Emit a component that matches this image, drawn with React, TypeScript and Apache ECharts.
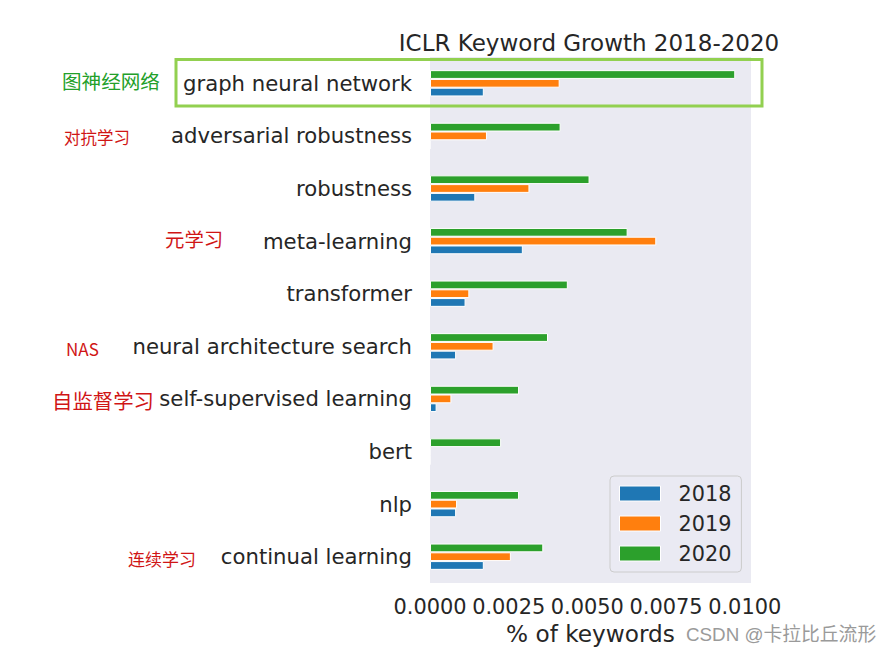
import React, { useEffect, useRef } from "react";
import * as echarts from "echarts";

const categories = [
  "graph neural network",
  "adversarial robustness",
  "robustness",
  "meta-learning",
  "transformer",
  "neural architecture search",
  "self-supervised learning",
  "bert",
  "nlp",
  "continual learning",
];
const years = ["2018", "2019", "2020"];
const v2018 = [0.00171, 0, 0.00144, 0.00295, 0.00113, 0.00083, 0.00021, 0, 0.00083, 0.00171];
const v2019 = [0.00412, 0.00181, 0.00316, 0.00719, 0.00125, 0.00202, 0.00068, 0, 0.00086, 0.00257];
const v2020 = [0.0097, 0.00415, 0.00507, 0.00628, 0.00438, 0.00375, 0.00283, 0.00226, 0.00283, 0.0036];
const xTicks = [0, 0.0025, 0.005, 0.0075, 0.01];

const colors: Record<string, string> = { "2018": "#1f77b4", "2019": "#ff7f0e", "2020": "#2ca02c" };
const valuesByYear: Record<string, number[]> = { "2018": v2018, "2019": v2019, "2020": v2020 };

const notes = [
  { text: "图神经网络", x: 62, y: 80, color: "#23a02a", size: 19.6 },
  { text: "对抗学习", x: 64, y: 137, color: "#d01515", size: 16.5 },
  { text: "元学习", x: 165, y: 238, color: "#d01515", size: 19.4 },
  { text: "NAS", x: 66, y: 348, color: "#d01515", size: 17 },
  { text: "自监督学习", x: 52, y: 400, color: "#d01515", size: 20.4 },
  { text: "连续学习", x: 128, y: 558, color: "#d01515", size: 17 },
];

const FONT = "DejaVu Sans";
const TXT = "#262626";

export default function App() {
  const ref = useRef<HTMLDivElement>(null);
  useEffect(() => {
    if (!ref.current) return;
    const chart = echarts.init(ref.current, undefined, { renderer: "svg" });
    const seriesOrder = ["2020", "2019", "2018"];
    chart.setOption({
      animation: false,
      backgroundColor: "#ffffff",
      grid: {
        left: 430,
        right: 142,
        top: 57,
        bottom: 71,
        show: true,
        backgroundColor: "#eaeaf2",
        borderWidth: 0,
      },
      legend: {
        data: years,
        orient: "vertical",
        left: 610,
        top: 476,
        padding: [7, 10, 8, 9],
        itemGap: 9,
        itemWidth: 41,
        itemHeight: 15,
        icon: "rect",
        backgroundColor: "rgba(234,234,242,0.8)",
        borderColor: "#cccccc",
        borderWidth: 1,
        borderRadius: 4,
        itemStyle: { borderColor: "#ffffff", borderWidth: 1 },
        textStyle: {
          fontFamily: FONT,
          fontSize: 20.8,
          color: TXT,
          lineHeight: 20,
          padding: [0, 0, 0, 13],
        },
      },
      xAxis: {
        type: "value",
        min: 0,
        max: 0.0102,
        interval: 0.0025,
        name: "% of keywords",
        nameLocation: "middle",
        nameGap: 35,
        nameTextStyle: { fontFamily: FONT, fontSize: 23.2, color: TXT },
        axisLine: { show: false },
        axisTick: { show: false },
        splitLine: { show: false },
        axisLabel: {
          fontFamily: FONT,
          fontSize: 20.9,
          color: TXT,
          margin: 13,
          showMaxLabel: false,
          formatter: (v: number) => {
            const ok = xTicks.some((t) => Math.abs(t - v) < 1e-9);
            return ok ? v.toFixed(4) : "";
          },
        },
      },
      yAxis: {
        type: "category",
        data: categories,
        inverse: true,
        axisLine: { show: false },
        axisTick: { show: false },
        splitLine: { show: false },
        axisLabel: { fontFamily: FONT, fontSize: 21.2, color: TXT, margin: 18 },
      },
      series: seriesOrder.map((y) => ({
        name: y,
        type: "bar",
        data: valuesByYear[y],
        barWidth: "16.6667%",
        barGap: "0%",
        itemStyle: { color: colors[y], borderColor: "#ffffff", borderWidth: 1 },
      })),
      graphic: [
        {
          type: "text",
          x: 589,
          y: 43,
          style: {
            text: "ICLR Keyword Growth 2018-2020",
            fontFamily: FONT,
            fontSize: 23,
            fill: TXT,
            align: "center",
            verticalAlign: "middle",
          },
        },
        {
          type: "rect",
          shape: { x: 176, y: 59.5, width: 586, height: 46.5 },
          style: { fill: "none", stroke: "#92d050", lineWidth: 3 },
          z: 100,
        },
        ...notes.map((n) => ({
          type: "text",
          x: n.x,
          y: n.y,
          style: {
            text: n.text,
            fontFamily: "Noto Sans CJK SC",
            fontSize: n.size,
            fill: n.color,
            verticalAlign: "middle",
            align: "left",
          },
        })),
        {
          type: "text",
          x: 686,
          y: 634,
          style: {
            text: "CSDN @卡拉比丘流形",
            fontFamily: "Liberation Sans, Noto Sans CJK SC",
            fontSize: 18.8,
            fill: "#9a9a9a",
            verticalAlign: "middle",
            align: "left",
          },
        },
      ],
    });
    return () => chart.dispose();
  }, []);
  return (
    <div
      ref={ref}
      style={{ position: "fixed", left: 0, top: 0, width: 893, height: 654 }}
    />
  );
}
